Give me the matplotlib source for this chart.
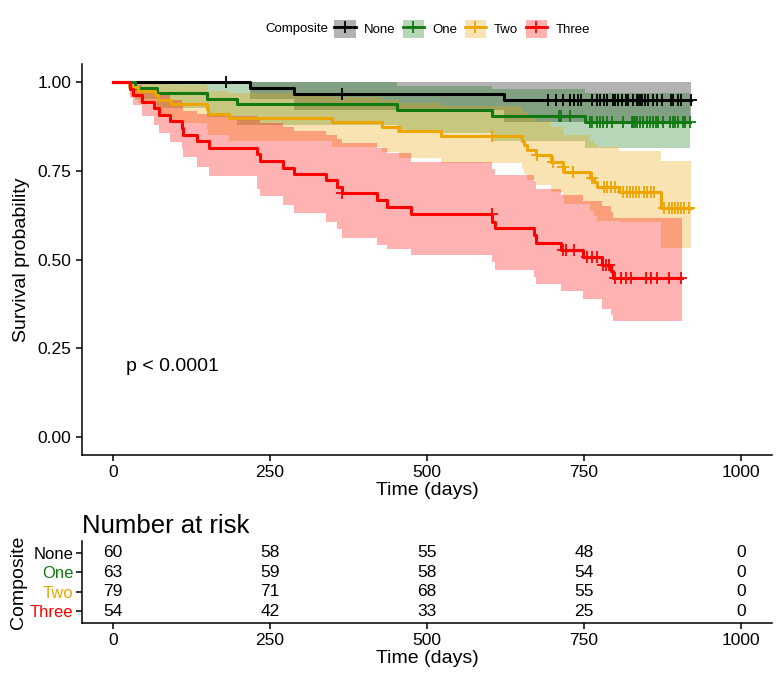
import numpy as np
import matplotlib.pyplot as plt
from matplotlib.lines import Line2D
from matplotlib.patches import Patch

plt.rcParams['font.family'] = ['Liberation Sans', 'DejaVu Sans']

groups = ['None', 'One', 'Two', 'Three']
colors = ['#000000', '#127812', '#EDA500', '#FF0000']

# Kaplan-Meier steps: time, survival, 95% band
none_t = [0, 218, 289, 623]
none_s = [1.0, 0.983, 0.966, 0.948]
none_lo = [1.0, 0.951, 0.921, 0.888]
none_hi = [1.0, 1.0, 1.0, 1.0]
none_end = 920
none_cens = [180, 364, 693, 705, 717, 728, 734, 740, 745, 763, 771, 775, 782, 787,
             796, 799, 804, 811, 817, 820, 828, 834, 836, 839, 842, 847, 852, 860,
             866, 874, 889, 892, 900, 904, 920]

one_t = [0, 35, 70, 149, 197, 453, 604, 752]
one_s = [1.0, 0.984, 0.968, 0.952, 0.937, 0.921, 0.905, 0.888]
one_lo = [1.0, 0.953, 0.926, 0.901, 0.879, 0.856, 0.835, 0.813]
one_hi = [1.0, 1.0, 1.0, 1.0, 0.999, 0.990, 0.981, 0.970]
one_end = 919
one_cens = [711, 714, 728, 760, 763, 771, 775, 780, 787, 795, 812, 826, 828, 831,
            834, 839, 844, 850, 855, 860, 865, 868, 876, 887, 892, 895, 900, 908,
            911, 919]

two_t = [0, 25, 40, 67, 72, 92, 149, 152, 185, 348, 429, 456, 523, 652, 655, 660,
         674, 698, 716, 719, 760, 766, 771, 806, 873]
two_s = [1.0, 0.987, 0.975, 0.962, 0.949, 0.937, 0.924, 0.911, 0.899, 0.886, 0.873,
         0.861, 0.848, 0.835, 0.822, 0.808, 0.794, 0.776, 0.762, 0.747, 0.730, 0.718,
         0.705, 0.691, 0.645]
two_lo = [1.0, 0.962, 0.941, 0.921, 0.902, 0.885, 0.867, 0.851, 0.835, 0.818, 0.802,
          0.787, 0.772, 0.756, 0.741, 0.725, 0.709, 0.689, 0.673, 0.657, 0.638, 0.624,
          0.609, 0.605, 0.533]
two_hi = [1.0, 1.0, 1.0, 1.0, 0.999, 0.992, 0.984, 0.976, 0.968, 0.959, 0.950, 0.942,
          0.932, 0.922, 0.912, 0.901, 0.890, 0.874, 0.862, 0.850, 0.835, 0.826, 0.816,
          0.806, 0.778]
two_end = 920
two_cens = [604, 675, 700, 717, 733, 762, 782, 787, 793, 799, 812, 818, 823, 828,
            833, 838, 845, 850, 857, 862, 878, 885, 890, 895, 900, 905, 910, 918]

three_t = [0, 27, 32, 46, 65, 74, 90, 110, 112, 134, 153, 230, 234, 271, 288, 340,
           357, 364, 421, 437, 475, 604, 609, 671, 674, 713, 748, 778, 793, 796]
three_s = [1.0, 0.981, 0.963, 0.944, 0.926, 0.907, 0.889, 0.870, 0.852, 0.833, 0.815,
           0.796, 0.778, 0.759, 0.741, 0.723, 0.705, 0.687, 0.668, 0.649, 0.628, 0.607,
           0.588, 0.568, 0.548, 0.528, 0.507, 0.485, 0.467, 0.449]
three_lo = [1.0, 0.955, 0.935, 0.905, 0.880, 0.855, 0.832, 0.810, 0.790, 0.761, 0.735,
            0.700, 0.680, 0.654, 0.630, 0.605, 0.585, 0.560, 0.540, 0.530, 0.512, 0.492,
            0.470, 0.450, 0.432, 0.412, 0.390, 0.362, 0.344, 0.327]
three_hi = [1.0, 1.0, 0.992, 0.985, 0.974, 0.962, 0.950, 0.934, 0.919, 0.911, 0.903,
            0.895, 0.885, 0.873, 0.863, 0.852, 0.840, 0.828, 0.815, 0.800, 0.775, 0.755,
            0.738, 0.720, 0.700, 0.683, 0.664, 0.650, 0.635, 0.617]
three_end = 906
three_cens = [365, 603, 716, 721, 734, 755, 762, 771, 781, 785, 790, 800, 809, 817,
              825, 849, 857, 866, 885, 905]

# number at risk table
risk_times = [0, 250, 500, 750, 1000]
risk_none = [60, 58, 55, 48, 0]
risk_one = [63, 59, 58, 54, 0]
risk_two = [79, 71, 68, 55, 0]
risk_three = [54, 42, 33, 25, 0]

curves = [
    (none_t, none_s, none_lo, none_hi, none_end, none_cens),
    (one_t, one_s, one_lo, one_hi, one_end, one_cens),
    (two_t, two_s, two_lo, two_hi, two_end, two_cens),
    (three_t, three_s, three_lo, three_hi, three_end, three_cens),
]
risk = [risk_none, risk_one, risk_two, risk_three]

fig = plt.figure(figsize=(7.8, 6.76), dpi=100)
ax = fig.add_axes([0.1046, 0.327, 0.8856, 0.578])
tab = fig.add_axes([0.1046, 0.0788, 0.8856, 0.121])

# bands first, then lines on top
for (t, s, lo, hi, end, cens), col in zip(curves, colors):
    tt = np.append(t, end)
    ax.fill_between(tt, np.append(lo, lo[-1]), np.append(hi, hi[-1]),
                    step='post', color=col, alpha=0.3, lw=0)

for (t, s, lo, hi, end, cens), col in zip(curves, colors):
    tt = np.append(t, end)
    ax.step(tt, np.append(s, s[-1]), where='post', color=col, lw=2.2)
    idx = np.searchsorted(t, cens, side='right') - 1
    ax.plot(cens, np.array(s)[idx], '+', color=col, ms=8, mew=1.3)

ax.text(20, 0.2, 'p < 0.0001', fontsize=14, ha='left', va='center')

for a in (ax, tab):
    a.set_xlim(-50, 1050)
    a.set_xticks(risk_times)
    for side in ('top', 'right'):
        a.spines[side].set_visible(False)
    for side in ('left', 'bottom'):
        a.spines[side].set_linewidth(1.1)
    a.tick_params(direction='out', length=4, width=1.1, labelsize=12.5, colors='black')
    a.set_xlabel('Time (days)', fontsize=14, labelpad=1)

ax.set_ylim(-0.05, 1.05)
ax.set_yticks([0, 0.25, 0.5, 0.75, 1.0])
ax.set_yticklabels(['0.00', '0.25', '0.50', '0.75', '1.00'])
ax.set_ylabel('Survival probability', fontsize=14, labelpad=5)

# risk table
rows = [4, 3, 2, 1]
for y, vals in zip(rows, risk):
    for x, v in zip(risk_times, vals):
        tab.text(x, y, str(v), ha='center', va='center', fontsize=12.5)
tab.set_ylim(0.4, 4.6)
tab.set_yticks(rows)
tab.set_yticklabels(groups)
tab.tick_params(axis='y', labelsize=12, pad=2)
for lbl, col in zip(tab.get_yticklabels(), colors):
    lbl.set_color(col)
tab.set_ylabel('Composite', fontsize=14, labelpad=2)
tab.set_title('Number at risk', loc='left', fontsize=18.5, pad=6)

# legend on top
handles = [(Patch(facecolor=c, alpha=0.3, lw=0),
            Line2D([], [], color=c, lw=2, marker='+', ms=8, mew=1.3)) for c in colors]
fig.legend(handles, groups, ncol=4, loc='center left',
           bbox_to_anchor=(334 / 780, 1 - 29 / 676), frameon=False,
           handlelength=1.65, handleheight=1.65, fontsize=9.5,
           handletextpad=0.6, columnspacing=0.55, borderpad=0, borderaxespad=0)
fig.text(328 / 780, 1 - 29 / 676, 'Composite', ha='right', va='center', fontsize=9.5)

fig.savefig('out.png', dpi=100)
